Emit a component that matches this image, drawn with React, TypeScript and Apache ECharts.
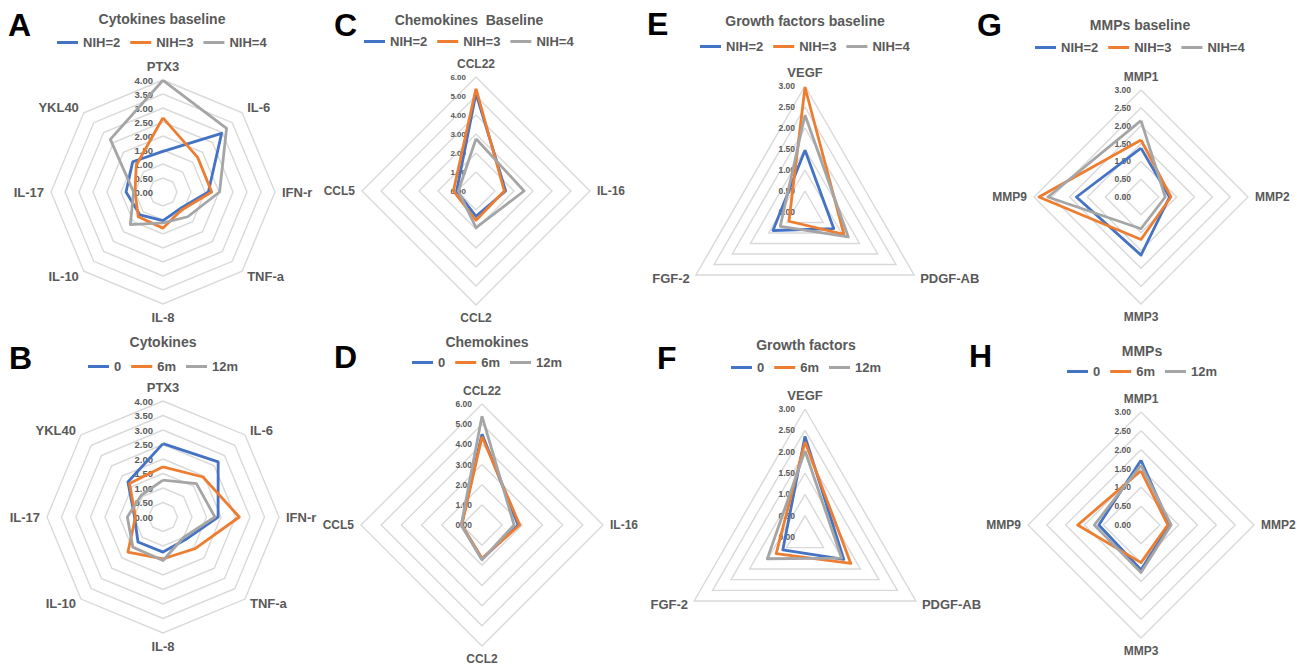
import React, { useEffect, useRef } from "react";
import * as echarts from "echarts";

const BLUE = "#4472C4";
const ORANGE = "#ED7D31";
const GRAY = "#A5A5A5";
const TEXT = "#595959";
const FONT = "Arial, 'Liberation Sans', sans-serif";

// ---- categories ----
const cytokineAxes = ["PTX3", "IL-6", "IFN-r", "TNF-a", "IL-8", "IL-10", "IL-17", "YKL40"];
const chemokineAxes = ["CCL22", "IL-16", "CCL2", "CCL5"];
const growthAxes = ["VEGF", "PDGF-AB", "FGF-2"];
const mmpAxes = ["MMP1", "MMP2", "MMP3", "MMP9"];

const nihNames = ["NIH=2", "NIH=3", "NIH=4"];
const timeNames = ["0", "6m", "12m"];

// ---- values (clockwise from top) ----
const cytoBaseNIH2 = [1.45, 2.96, 1.62, 0.85, 1.02, 1.16, 1.32, 1.53];
const cytoBaseNIH3 = [2.65, 1.75, 1.74, 0.92, 1.29, 1.25, 1.0, 1.35];
const cytoBaseNIH4 = [3.99, 3.21, 2.02, 1.25, 1.1, 1.65, 1.05, 2.66];

const cyto0 = [2.53, 2.69, 1.9, 1.1, 1.21, 1.22, 0.98, 1.71];
const cyto6m = [1.73, 1.95, 2.63, 1.55, 1.44, 1.71, 0.95, 1.63];
const cyto12m = [1.27, 1.63, 1.79, 1.0, 1.5, 1.47, 1.23, 1.06];

const chemoBaseNIH2 = [5.13, 1.56, 1.33, 1.02];
const chemoBaseNIH3 = [5.39, 1.49, 1.54, 1.19];
const chemoBaseNIH4 = [2.75, 2.53, 1.93, 0.93];

const chemo0 = [4.51, 1.79, 1.7, 1.02];
const chemo6m = [4.38, 1.87, 1.65, 1.0];
const chemo12m = [5.4, 1.59, 1.72, 1.03];

const growthBaseNIH2 = [1.47, 0.79, 0.88];
const growthBaseNIH3 = [2.97, 1.07, 0.44];
const growthBaseNIH4 = [2.31, 1.19, 0.68];

const growth0 = [2.36, 1.05, 0.6];
const growth6m = [2.23, 1.24, 0.78];
const growth12m = [2.02, 0.99, 1.02];

const mmpBaseNIH2 = [1.37, 0.8, 1.63, 1.81];
const mmpBaseNIH3 = [1.6, 0.84, 1.19, 2.86];
const mmpBaseNIH4 = [2.14, 0.68, 0.89, 2.61];

const mmp0 = [1.72, 0.76, 1.19, 1.12];
const mmp6m = [1.44, 0.71, 1.0, 1.68];
const mmp12m = [1.59, 0.8, 1.26, 1.24];

type Panel = {
  letter: string;
  title: string;
  axes: string[];
  names: string[];
  values: number[][];
  max: number;
  split: number;
  cx: number;
  cy: number;
  r: number;
  titleX: number;
  titleY: number;
  legendY: number;
  letterX: number;
  letterY: number;
  nameSize: number;
  tickSize: number;
};

const panels: Panel[] = [
  { letter: "A", title: "Cytokines baseline", axes: cytokineAxes, names: nihNames, values: [cytoBaseNIH2, cytoBaseNIH3, cytoBaseNIH4], max: 4, split: 8, cx: 163, cy: 192, r: 112, titleX: 162, titleY: 20, legendY: 43, letterX: 8, letterY: 25, nameSize: 13, tickSize: 9.5 },
  { letter: "B", title: "Cytokines", axes: cytokineAxes, names: timeNames, values: [cyto0, cyto6m, cyto12m], max: 4, split: 8, cx: 163, cy: 517, r: 116, titleX: 163, titleY: 343, legendY: 367, letterX: 9, letterY: 358, nameSize: 13, tickSize: 9.5 },
  { letter: "C", title: "Chemokines  Baseline", axes: chemokineAxes, names: nihNames, values: [chemoBaseNIH2, chemoBaseNIH3, chemoBaseNIH4], max: 6, split: 6, cx: 476, cy: 191, r: 114, titleX: 469, titleY: 21, legendY: 42, letterX: 334, letterY: 25, nameSize: 12, tickSize: 8 },
  { letter: "D", title: "Chemokines", axes: chemokineAxes, names: timeNames, values: [chemo0, chemo6m, chemo12m], max: 6, split: 6, cx: 482, cy: 525, r: 121, titleX: 487, titleY: 343, legendY: 363, letterX: 334, letterY: 357, nameSize: 12, tickSize: 8.5 },
  { letter: "E", title: "Growth factors baseline", axes: growthAxes, names: nihNames, values: [growthBaseNIH2, growthBaseNIH3, growthBaseNIH4], max: 3, split: 6, cx: 805, cy: 212, r: 126, titleX: 805, titleY: 22, legendY: 47, letterX: 647, letterY: 24, nameSize: 13, tickSize: 8.5 },
  { letter: "F", title: "Growth factors", axes: growthAxes, names: timeNames, values: [growth0, growth6m, growth12m], max: 3, split: 6, cx: 805, cy: 537, r: 128, titleX: 806, titleY: 346, legendY: 368, letterX: 657, letterY: 358, nameSize: 13, tickSize: 8.5 },
  { letter: "G", title: "MMPs baseline", axes: mmpAxes, names: nihNames, values: [mmpBaseNIH2, mmpBaseNIH3, mmpBaseNIH4], max: 3, split: 6, cx: 1141, cy: 197, r: 107, titleX: 1140, titleY: 26, legendY: 48, letterX: 977, letterY: 25, nameSize: 12, tickSize: 8.5 },
  { letter: "H", title: "MMPs", axes: mmpAxes, names: timeNames, values: [mmp0, mmp6m, mmp12m], max: 3, split: 6, cx: 1141, cy: 525, r: 113, titleX: 1142, titleY: 352, legendY: 372, letterX: 969, letterY: 356, nameSize: 12, tickSize: 8.5 },
];

const colors = [BLUE, ORANGE, GRAY];

// ECharts places indicators counter-clockwise; reorder so the picture runs clockwise
const clockwise = <T,>(arr: T[]): T[] => [arr[0], ...arr.slice(1).reverse()];

let measureCtx: CanvasRenderingContext2D | null = null;
const textWidth = (t: string, size: number) => {
  if (!measureCtx) measureCtx = document.createElement("canvas").getContext("2d");
  if (!measureCtx) return t.length * size * 0.6;
  measureCtx.font = `bold ${size}px ${FONT}`;
  return measureCtx.measureText(t).width;
};

const LEG_ICON_W = 21;
const LEG_GAP = 10;
const LEG_FONT = 13;

function buildOption() {
  const radar: any[] = [];
  const series: any[] = [];
  const title: any[] = [];
  const legend: any[] = [];
  const graphic: any[] = [];

  panels.forEach((p, pi) => {
    const ordered = clockwise(p.axes);
    radar.push({
      center: [p.cx, p.cy],
      radius: p.r,
      startAngle: 90,
      splitNumber: p.split,
      shape: "polygon",
      nameGap: 7,
      axisName: { color: TEXT, fontWeight: "bold", fontSize: p.nameSize, fontFamily: FONT },
      axisLine: { show: false },
      axisTick: { show: false },
      axisLabel: { show: false },
      splitArea: { show: false },
      splitLine: { lineStyle: { color: "#D9D9D9", width: 1.4 } },
      indicator: ordered.map((name, i) => {
        const ind: any = { name, min: 0, max: p.max };
        if (i === 0) {
          ind.axisLabel = {
            show: true,
            color: TEXT,
            fontWeight: "bold",
            fontSize: p.tickSize,
            fontFamily: FONT,
            margin: 10,
            formatter: (v: number) => v.toFixed(2),
          };
        }
        return ind;
      }),
    });
    series.push({
      type: "radar",
      radarIndex: pi,
      symbol: "none",
      silent: true,
      data: p.values.map((vals, si) => ({
        name: p.names[si],
        value: clockwise(vals),
        lineStyle: { color: colors[si], width: 2.8 },
        itemStyle: { color: colors[si] },
      })),
      z: 3,
    });
    title.push({
      text: p.title,
      left: p.titleX,
      top: p.titleY - 8,
      textAlign: "center",
      padding: 0,
      textStyle: { color: TEXT, fontWeight: "bold", fontSize: 14, fontFamily: FONT },
    });
    const w =
      p.names.reduce((s, n) => s + LEG_ICON_W + 5 + textWidth(n, LEG_FONT), 0) + LEG_GAP * (p.names.length - 1);
    legend.push({
      left: Math.round(p.titleX - w / 2),
      top: p.legendY - 7,
      padding: 0,
      itemGap: LEG_GAP,
      itemWidth: LEG_ICON_W,
      itemHeight: 3,
      selectedMode: false,
      textStyle: { color: TEXT, fontWeight: "bold", fontSize: LEG_FONT, fontFamily: FONT },
      data: p.names.map((n, si) => ({ name: n, icon: "rect", itemStyle: { color: colors[si] } })),
    });
    graphic.push({
      type: "text",
      left: p.letterX,
      top: p.letterY - 16,
      style: { text: p.letter, fill: "#000", font: `bold 32px ${FONT}` },
    });
  });

  return {
    animation: false,
    backgroundColor: "#fff",
    title,
    legend,
    radar,
    series,
    graphic,
  };
}

export default function App() {
  const ref = useRef<HTMLDivElement>(null);
  useEffect(() => {
    if (!ref.current) return;
    const chart = echarts.init(ref.current, undefined, { renderer: "svg" });
    chart.setOption(buildOption() as any);
    return () => chart.dispose();
  }, []);
  return (
    <div
      ref={ref}
      style={{ position: "absolute", left: 0, top: 0, width: 1297, height: 666, background: "#fff" }}
    />
  );
}
